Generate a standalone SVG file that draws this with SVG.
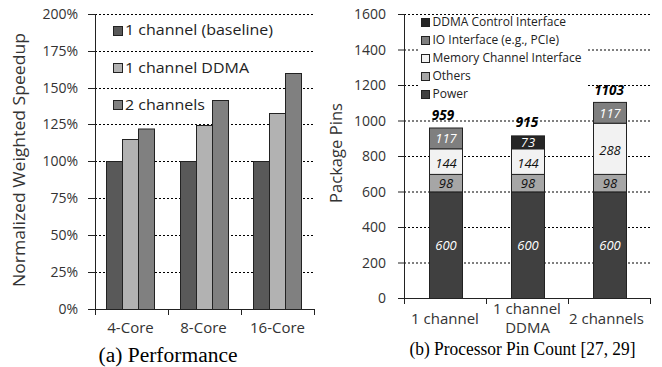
<svg xmlns="http://www.w3.org/2000/svg" width="662" height="367" viewBox="0 0 662 367">
<style>
.grid{stroke:#000;stroke-width:1;stroke-dasharray:2,2;fill:none}
.axis{stroke:#222;stroke-width:1;fill:none}
.tick{font-family:"Open Sans",sans-serif;font-size:14px;fill:#333;text-anchor:end}
.xl{font-family:"Open Sans",sans-serif;font-size:15px;fill:#333;text-anchor:middle}
.leg{font-family:"Open Sans",sans-serif;font-size:14px;fill:#222}
.legr{font-family:"Open Sans",sans-serif;font-size:12px;fill:#222}
.title{font-family:"Open Sans",sans-serif;font-size:17px;fill:#333;text-anchor:middle}
.cap{font-family:"Liberation Serif",serif;fill:#000}
.bar{stroke:#222;stroke-width:1}
.c1{fill:#595959}.c2{fill:#b2b2b2}.c3{fill:#808080}
.pw{fill:#404040}.ot{fill:#a6a6a6}.mc{fill:#f2f2f2}.io{fill:#7f7f7f}.dd{fill:#262626}
.v{font-family:"Open Sans",sans-serif;font-size:13px;font-style:italic;text-anchor:middle}
.tot{font-family:"Open Sans",sans-serif;font-size:13.5px;font-style:italic;font-weight:bold;text-anchor:middle;fill:#000}
</style>

<!-- (a) Performance -->
<g id="perf-grid">
<path class="grid" d="M95 14.5H315M95 51.5H315M95 88.5H315M95 124.5H315M95 161.5H315M95 198.5H315M95 235.5H315M95 272.5H315"/>
</g>
<g id="perf-bars">
<rect class="bar c1" x="106.5" y="161.5" width="16" height="148"/>
<rect class="bar c2" x="122.5" y="139.5" width="16" height="170"/>
<rect class="bar c3" x="138.5" y="129" width="16" height="180.5"/>
<rect class="bar c1" x="180.5" y="161.5" width="16" height="148"/>
<rect class="bar c2" x="196.5" y="125.5" width="16" height="184"/>
<rect class="bar c3" x="212.5" y="100.5" width="16" height="209"/>
<rect class="bar c1" x="253.5" y="161.5" width="16" height="148"/>
<rect class="bar c2" x="269.5" y="113.5" width="16" height="196"/>
<rect class="bar c3" x="285.5" y="73.5" width="16" height="236"/>
</g>
<g id="perf-axes">
<path class="axis" d="M95.5 14V309.5M88 14.5H95.5M88 51.5H95.5M88 88.5H95.5M88 124.5H95.5M88 161.5H95.5M88 198.5H95.5M88 235.5H95.5M88 272.5H95.5M88 309.5H315M95.5 309.5V315M168.5 309.5V315M241.5 309.5V315M314.5 309.5V315"/>
<text class="tick" x="78" y="19">200%</text>
<text class="tick" x="78" y="56">175%</text>
<text class="tick" x="78" y="93">150%</text>
<text class="tick" x="78" y="129">125%</text>
<text class="tick" x="78" y="166">100%</text>
<text class="tick" x="78" y="203">75%</text>
<text class="tick" x="78" y="240">50%</text>
<text class="tick" x="78" y="277">25%</text>
<text class="tick" x="78" y="314">0%</text>
<text class="xl" x="130.5" y="333">4-Core</text>
<text class="xl" x="203.5" y="333">8-Core</text>
<text class="xl" x="277.5" y="333">16-Core</text>
<text class="title" transform="translate(25,160) rotate(-90)" textLength="254" lengthAdjust="spacingAndGlyphs">Normalized Weighted Speedup</text>
</g>
<g id="perf-legend">
<rect class="bar c1" x="113.5" y="26.5" width="9" height="9"/>
<text class="leg" x="125" y="35" textLength="148" lengthAdjust="spacingAndGlyphs">1 channel (baseline)</text>
<rect class="bar c2" x="113.5" y="63.5" width="9" height="9"/>
<text class="leg" x="125" y="72.5" textLength="124" lengthAdjust="spacingAndGlyphs">1 channel DDMA</text>
<rect class="bar c3" x="113.5" y="100.5" width="9" height="9"/>
<text class="leg" x="125" y="109.5" textLength="80" lengthAdjust="spacingAndGlyphs">2 channels</text>
</g>
<text id="cap-a" class="cap" x="98.5" y="361.5" font-size="20" textLength="139" lengthAdjust="spacingAndGlyphs">(a) Performance</text>

<!-- (b) Processor Pin Count -->
<g id="pins-grid">
<path class="grid" d="M404 14.5H652M404 50H652M404 85.5H652M404 121H652M404 156.5H652M404 192H652M404 227.5H652M404 263H652"/>
</g>
<g id="pins-legend">
<rect x="418" y="16.5" width="170" height="86" fill="#fff"/>
<rect class="bar dd" x="421.5" y="18.5" width="8" height="8"/>
<text class="legr" x="432.5" y="26">DDMA Control Interface</text>
<rect class="bar io" x="421.5" y="36.5" width="8" height="8"/>
<text class="legr" x="432.5" y="44">IO Interface (e.g., PCIe)</text>
<rect class="bar mc" x="421.5" y="54.5" width="8" height="8"/>
<text class="legr" x="432.5" y="62">Memory Channel Interface</text>
<rect class="bar ot" x="421.5" y="72.5" width="8" height="8"/>
<text class="legr" x="432.5" y="80">Others</text>
<rect class="bar pw" x="421.5" y="90.5" width="8" height="8"/>
<text class="legr" x="432.5" y="98">Power</text>
</g>
<g id="pins-bars">
<rect class="bar pw" x="429.5" y="191.9" width="33" height="106.6"/>
<rect class="bar ot" x="429.5" y="174.4" width="33" height="17.5"/>
<rect class="bar mc" x="429.5" y="148.8" width="33" height="25.6"/>
<rect class="bar io" x="429.5" y="128" width="33" height="20.8"/>
<rect class="bar pw" x="511.5" y="191.9" width="33" height="106.6"/>
<rect class="bar ot" x="511.5" y="174.4" width="33" height="17.5"/>
<rect class="bar mc" x="511.5" y="148.8" width="33" height="25.6"/>
<rect class="bar dd" x="511.5" y="135.9" width="33" height="12.9"/>
<rect class="bar pw" x="593.5" y="191.9" width="33" height="106.6"/>
<rect class="bar ot" x="593.5" y="174.4" width="33" height="17.5"/>
<rect class="bar mc" x="593.5" y="123.2" width="33" height="51.2"/>
<rect class="bar io" x="593.5" y="102.4" width="33" height="20.8"/>
<text class="v" x="446" y="250" fill="#fff">600</text>
<text class="v" x="528" y="250" fill="#fff">600</text>
<text class="v" x="610" y="250" fill="#fff">600</text>
<text class="v" x="446" y="188" fill="#111">98</text>
<text class="v" x="528" y="188" fill="#111">98</text>
<text class="v" x="610" y="188" fill="#111">98</text>
<text class="v" x="446" y="168" fill="#111">144</text>
<text class="v" x="528" y="168" fill="#111">144</text>
<text class="v" x="610" y="155" fill="#111">288</text>
<text class="v" x="446" y="143" fill="#fff">117</text>
<text class="v" x="610" y="118" fill="#fff">117</text>
<text class="v" x="528" y="146.5" fill="#fff" font-style="normal">73</text>
<text class="tot" x="443" y="119.5">959</text>
<text class="tot" x="527" y="126.5">915</text>
<text class="tot" x="609" y="95">1103</text>
</g>
<g id="pins-axes">
<path class="axis" d="M404.5 14V298.5M398 14.5H404.5M398 50H404.5M398 85.5H404.5M398 121H404.5M398 156.5H404.5M398 192H404.5M398 227.5H404.5M398 263H404.5M398 298.5H651M404.5 298.5V304M486.5 298.5V304M568.5 298.5V304M650.5 298.5V304"/>
<text class="tick" x="386" y="19">1600</text>
<text class="tick" x="386" y="54.5">1400</text>
<text class="tick" x="386" y="90">1200</text>
<text class="tick" x="386" y="125.5">1000</text>
<text class="tick" x="386" y="161">800</text>
<text class="tick" x="386" y="196.5">600</text>
<text class="tick" x="386" y="232">400</text>
<text class="tick" x="386" y="267.5">200</text>
<text class="tick" x="386" y="303">0</text>
<text class="xl" x="445" y="324">1 channel</text>
<text class="xl" x="527" y="313.5" font-size="14.5">1 channel</text>
<text class="xl" x="527.5" y="332.5" font-size="14.5">DDMA</text>
<text class="xl" x="606.5" y="324">2 channels</text>
<text class="title" transform="translate(342,153) rotate(-90)" font-size="15" textLength="100" lengthAdjust="spacingAndGlyphs">Package Pins</text>
</g>
<text id="cap-b" class="cap" x="409.5" y="355" font-size="19" textLength="226" lengthAdjust="spacingAndGlyphs">(b) Processor Pin Count [27, 29]</text>
</svg>
